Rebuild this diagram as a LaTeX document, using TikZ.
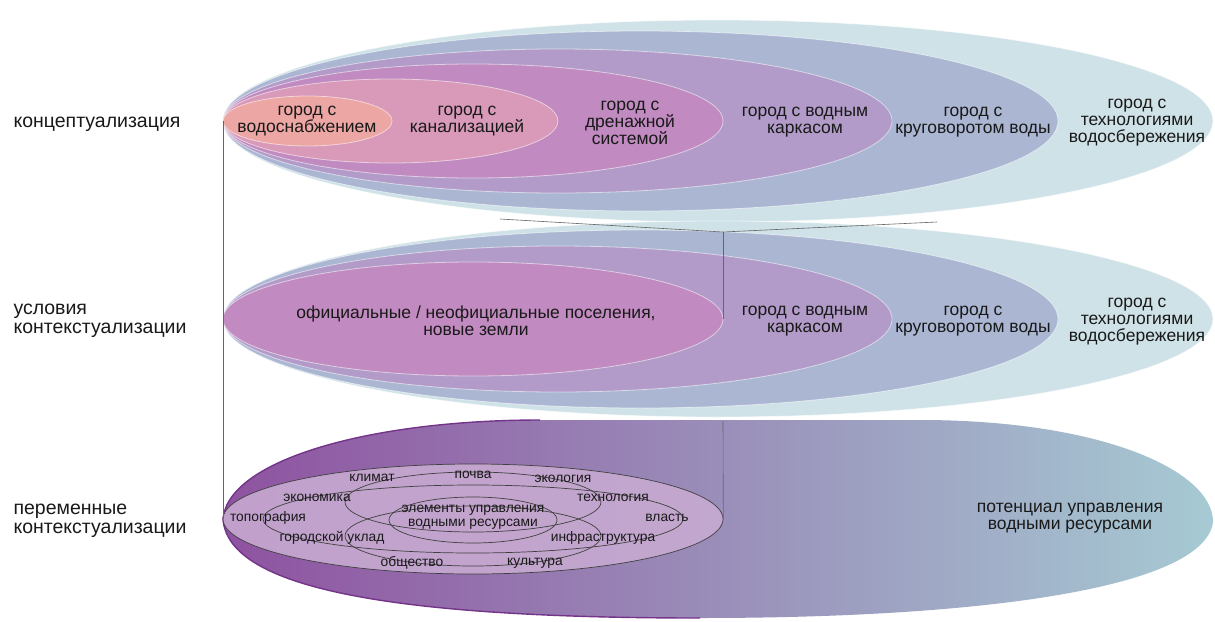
\documentclass[tikz,border=0pt]{standalone}
\usepackage{fontspec}
\setmainfont{Liberation Sans}
\usetikzlibrary{shapes.geometric}

\definecolor{aqua}{HTML}{CFE2E7}
\definecolor{slate}{HTML}{AAB6D2}
\definecolor{mauve}{HTML}{B29BC8}
\definecolor{orchid}{HTML}{C18AC0}
\definecolor{rose}{HTML}{D89AB8}
\definecolor{salmon}{HTML}{ECA6A3}
\definecolor{plumdark}{HTML}{74348A}
\definecolor{plumleft}{HTML}{8E52A0}
\definecolor{plummid}{HTML}{A293C0}
\definecolor{tealright}{HTML}{A6CAD3}
\definecolor{lilac}{HTML}{C7AAD1}

\tikzset{
	blob/.style={ellipse, inner sep=0pt, outer sep=0pt, draw=white, draw opacity=.55, line width=.8pt},
	lbl/.style={align=center, font=\fontsize{17.5}{17}\selectfont, text=black!90},
	side/.style={align=left, anchor=west, font=\fontsize{19.5}{19.5}\selectfont, text=black!90},
	small/.style={align=center, inner sep=1pt, font=\fontsize{13.8}{13.5}\selectfont, text=black!90},
	venn/.style={draw=black!75, line width=.7pt},
	guide/.style={draw=black!60, line width=.6pt}
}

\begin{document}
\begin{tikzpicture}[x=1pt, y=-1pt]
	\fill[white] (0,0) rectangle (1215,621);
	\useasboundingbox (0,0) rectangle (1215,621);

	% first row
	\node[blob, fill=aqua, minimum width=990pt, minimum height=202pt] (r1A) at (718,121) {};
	\node[blob, fill=slate, minimum width=835pt, minimum height=180pt] (r1B) at (640.5,121) {};
	\node[blob, fill=mauve, minimum width=669pt, minimum height=144pt] (r1C) at (557.5,121) {};
	\node[blob, fill=orchid, minimum width=500pt, minimum height=114pt] (r1D) at (473,121) {};
	\node[blob, fill=rose, minimum width=335pt, minimum height=84pt] (r1E) at (390.5,121) {};
	\node[blob, fill=salmon, minimum width=169pt, minimum height=50pt] (r1F) at (307.5,121) {};

	% second row
	\node[blob, fill=aqua, minimum width=990pt, minimum height=196pt] (r2A) at (718,319) {};
	\node[blob, fill=slate, minimum width=835pt, minimum height=178pt] (r2B) at (640.5,319) {};
	\node[blob, fill=mauve, minimum width=669pt, minimum height=146pt] (r2C) at (557.5,319) {};
	\node[blob, fill=orchid, minimum width=500pt, minimum height=114pt] (r2D) at (473,319) {};

	% third row
	\coordinate (r3tip) at (223,519);
	\shade[left color=plumleft, middle color=plummid, right color=tealright]
		(r3tip) .. controls (228,460) and (370,420) .. (540,420) -- (920,420)
		.. controls (1100,420) and (1213,470) .. (1213,522)
		.. controls (1205,585) and (1000,618) .. (700,618)
		.. controls (400,618) and (228,590) .. (r3tip);
	\draw[plumdark, line width=1.4pt] (540,420) .. controls (370,420) and (228,460) .. (r3tip)
		.. controls (228,590) and (400,618) .. (700,618);
	\node[ellipse, venn, fill=lilac, fill opacity=.9, inner sep=0pt, minimum width=500pt, minimum height=110pt] (r3in) at (473,519) {};
	\node[ellipse, venn, inner sep=0pt, minimum width=420pt, minimum height=68pt] (vMid) at (473,519) {};
	\node[ellipse, venn, inner sep=0pt, minimum width=256pt, minimum height=60pt] (vTop) at (473,502) {};
	\node[ellipse, venn, inner sep=0pt, minimum width=256pt, minimum height=60pt] (vBot) at (473,536) {};
	\node[ellipse, venn, inner sep=0pt, minimum width=168pt, minimum height=46pt] (vCore) at (473,520) {};

	% guides
	\coordinate (gA) at (500,219);
	\coordinate (gB) at (723,232);
	\coordinate (gC) at (937,222);
	\coordinate (gD) at (723,421);
	\draw[guide] (r1F.west) -- (r3tip);
	\draw[guide] (gA) -- (gB) -- (gC);
	\draw[guide] (gB) -- (r2D.east);
	\draw[guide] (gD) -- (r3in.east);

	% labels
	\node[side] (sConc) at (10,124) {концептуализация};
	\node[side] (sCond) at (10,321) {условия\\контекстуализации};
	\node[side] (sVar) at (10,521) {переменные\\контекстуализации};

	\node[lbl] (tF) at (307,121) {город с\\водоснабжением};
	\node[lbl] (tE) at (467,121) {город с\\канализацией};
	\node[lbl] (tD) at (630,123) {город с\\дренажной\\системой};
	\node[lbl] (tC) at (805,122) {город с водным\\каркасом};
	\node[lbl] (tB) at (973,122) {город с\\круговоротом воды};
	\node[lbl] (tA) at (1137,123) {город с\\технологиями\\водосбережения};

	\node[lbl] (uD) at (476,321) {официальные / неофициальные поселения,\\новые земли};
	\node[lbl] (uC) at (805,321) {город с водным\\каркасом};
	\node[lbl] (uB) at (973,321) {город с\\круговоротом воды};
	\node[lbl] (uA) at (1137,322) {город с\\технологиями\\водосбережения};

	\node[lbl] (wP) at (1070,518) {потенциал управления\\водными ресурсами};

	\node[small] (kClim) at (372,478) {климат};
	\node[small] (kSoil) at (473,475) {почва};
	\node[small] (kEco) at (563,479) {экология};
	\node[small] (kEcon) at (317,498) {экономика};
	\node[small] (kTech) at (613,498) {технология};
	\node[small] (kTopo) at (268,518) {топография};
	\node[small] (kCore) at (473,517) {элементы управления\\водными ресурсами};
	\node[small] (kPow) at (667,518) {власть};
	\node[small] (kUrb) at (332,538) {городской уклад};
	\node[small] (kInf) at (603,538) {инфраструктура};
	\node[small] (kSoc) at (412,563) {общество};
	\node[small] (kCult) at (535,563) {культура};
\end{tikzpicture}
\end{document}
